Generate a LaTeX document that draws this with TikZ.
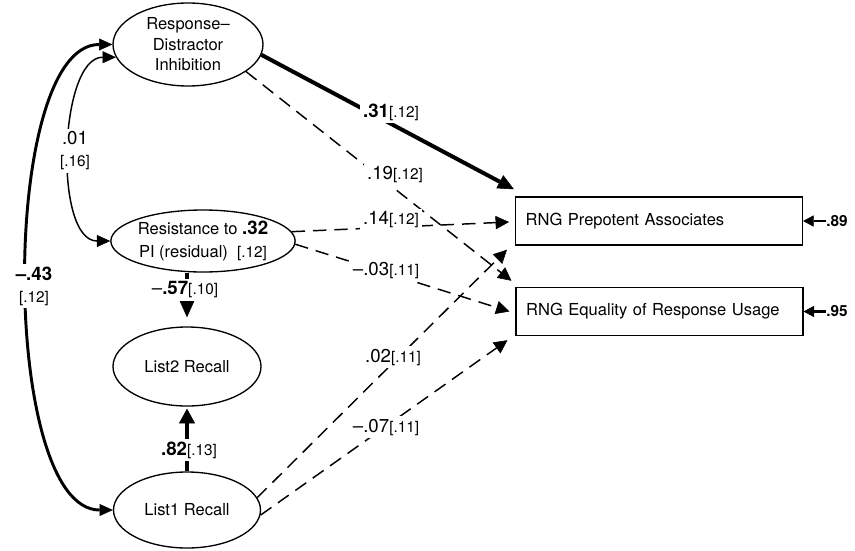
\documentclass[tikz,border=0pt]{standalone}
\usepackage{fontspec}
\setmainfont{TeX Gyre Heros}
\usetikzlibrary{arrows.meta,shapes.geometric,calc}
\newcommand{\sefont}{\fontsize{11.5}{13}\selectfont}
\newcommand{\estfont}{\fontsize{14}{16.5}\selectfont}

\begin{document}
\begin{tikzpicture}[x=0.75pt,y=0.75pt,yscale=-1,xscale=1,
  latent/.style={draw, ellipse, line width=1pt, inner sep=0pt, align=center, font=\fontsize{12.4}{15.4}\selectfont},
  observed/.style={draw, rectangle, line width=1.1pt, inner xsep=7.5pt, inner ysep=0pt, text width=200pt, align=left, minimum height=36pt, font=\fontsize{12.4}{14}\selectfont},
  coef/.style={fill=white, inner sep=2pt, align=center, font=\estfont},
  resid/.style={inner sep=0pt, anchor=west, font=\fontsize{11.5}{13}\selectfont\bfseries},
  strongpath/.style={line width=3pt, -{Triangle[length=12pt, width=11pt, line width=0.4pt]}},
  weakpath/.style={line width=1.1pt, dash pattern=on 10pt off 6pt, -{Triangle[length=10pt, width=10pt, line width=0.4pt]}},
  corr/.style={{Triangle[length=10pt, width=9pt, line width=0.4pt]}-{Triangle[length=10pt, width=9pt, line width=0.4pt]}},
  errarrow/.style={line width=2.2pt, -{Triangle[length=8pt, width=8.5pt, line width=0.4pt]}}
]
\useasboundingbox (0,0) rectangle (855,550);

%Shape: Ellipse
\node [latent, minimum width=112.5pt, minimum height=62.25pt] (rdi) at (188,44.5) {Response--\\Distractor\\Inhibition};
%Shape: Ellipse
\node [latent, minimum width=135pt, minimum height=46.5pt, font=\fontsize{12.4}{17}\selectfont] (resist) at (203,241) {Resistance to {\estfont\bfseries .32}\\PI (residual)\ \ {\sefont[.12]}};
%Shape: Ellipse
\node [latent, minimum width=111pt, minimum height=59.25pt] (listtwo) at (187,366.5) {List2 Recall};
%Shape: Ellipse
\node [latent, minimum width=110.25pt, minimum height=57pt] (listone) at (187,510) {List1 Recall};
%Shape: Rectangle
\node [observed, minimum width=215pt] (prepot) at (659,221) {RNG Prepotent Associates};
%Shape: Rectangle
\node [observed, minimum width=215pt] (equal) at (659.5,311.5) {RNG Equality of Response Usage};

%Curve Lines
\draw [corr, line width=2.2pt] (rdi.west) .. controls +(-113,0) and +(-113,0) .. (listone.west) ;
%Curve Lines
\draw [corr, line width=1.1pt] (rdi.190) .. controls +(-57,0) and +(-57,0) .. (resist.west) ;

%Straight Lines
\draw [strongpath] (rdi.-8) -- ($(prepot.north west)+(-1,-7)$) ;
\draw [weakpath] (rdi.-25) -- ($(equal.north west)+(-4,-6)$) ;
\draw [weakpath] (resist.6) -- ($(prepot.west)+(-6,1)$) ;
\draw [weakpath] (resist.-2) -- ($(equal.west)+(-6,0)$) ;
\draw [weakpath] (listone.10) -- ($(prepot.south west)+(-8,4)$) ;
\draw [weakpath] (listone.-4) -- ($(equal.south west)+(-8,4)$) ;
\draw [strongpath, -{Triangle[length=13.5pt, width=12pt, line width=0.4pt]}, shorten >=6.75pt] (resist.south -| listtwo.north) -- (listtwo.north) ;
\draw [strongpath, -{Triangle[length=11pt, width=12pt, line width=0.4pt]}, shorten >=1.5pt] (listone.north) -- (listtwo.south) ;

% Text Node
\draw (391,112) node [coef] (c31) {\bfseries .31{\mdseries\sefont[.12]}};
% Text Node
\draw (395,175) node [coef] (c19) {.19{\sefont[.12]}};
% Text Node
\draw (391,220) node [coef] (c14) {.14{\sefont[.12]}};
% Text Node
\draw (386,271) node [coef] (c03) {--.03{\sefont[.11]}};
% Text Node
\draw (393,357) node [coef] (c02) {.02{\sefont[.11]}};
% Text Node
\draw (386,427) node [coef] (c07) {--.07{\sefont[.11]}};
% Text Node
\draw (185,290) node [coef] (c57) {--{\bfseries .57}{\sefont[.10]}};
% Text Node
\draw (189,450) node [coef] (c82) {{\bfseries .82}{\sefont[.13]}};
% Text Node
\draw (75,151) node [coef] (c01) {.01\\{\sefont[.16]}};
% Text Node
\draw (34,286) node [coef] (c43) {{\bfseries --.43}\\{\sefont[.12]}};

% Text Node
\draw (826,221) node [resid] (e89) {.89};
% Text Node
\draw (826,311.5) node [resid] (e95) {.95};
\draw [errarrow] (e89.west) -- (prepot.east) ;
\draw [errarrow] (e95.west) -- (equal.east) ;

\end{tikzpicture}
\end{document}
